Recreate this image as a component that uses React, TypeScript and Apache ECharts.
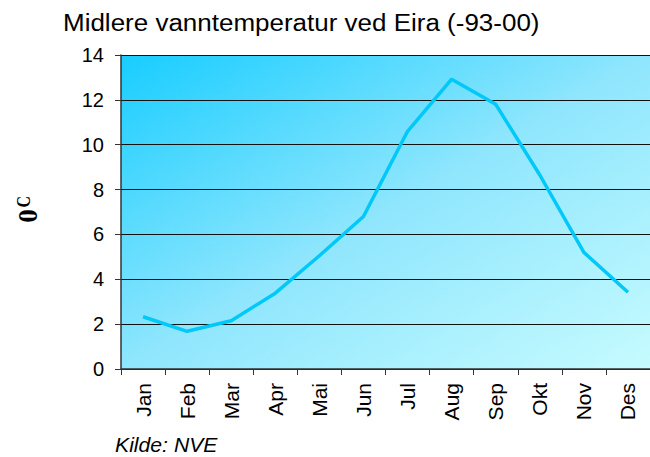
import React, { useEffect, useRef } from "react";
import * as echarts from "echarts";

const months = ["Jan", "Feb", "Mar", "Apr", "Mai", "Jun", "Jul", "Aug", "Sep", "Okt", "Nov", "Des"];
const temperature = [2.33, 1.68, 2.15, 3.38, 5.05, 6.8, 10.6, 12.92, 11.8, 8.65, 5.2, 3.42];
const titleText = "Midlere vanntemperatur ved Eira (-93-00)";
const sourceText = "Kilde: NVE";
const unitBase = "0";
const unitSup = "C";

export default function App() {
  const ref = useRef<HTMLDivElement>(null);
  useEffect(() => {
    if (!ref.current) return;
    const chart = echarts.init(ref.current, null, { renderer: "svg" });
    const font = "'Liberation Sans', Arial, sans-serif";
    const serif = "'Liberation Serif', 'Times New Roman', serif";
    chart.setOption({
      animation: false,
      backgroundColor: "#ffffff",
      grid: {
        left: 121,
        top: 55,
        right: 0,
        bottom: 88,
        show: true,
        borderWidth: 0,
        backgroundColor: new echarts.graphic.LinearGradient(0, 0, 1, 1, [
          { offset: 0, color: "#18cdff" },
          { offset: 0.5, color: "#8fe6fd" },
          { offset: 1, color: "#c6fbff" },
        ]),
      },
      xAxis: {
        type: "category",
        data: months,
        boundaryGap: true,
        axisLine: { lineStyle: { color: "#333", width: 1.5 } },
        axisTick: { show: true, length: 6, lineStyle: { color: "#333" } },
        axisLabel: {
          rotate: 90,
          margin: 14,
          fontFamily: font,
          fontSize: 21,
          color: "#000",
          interval: 0,
        },
      },
      yAxis: {
        type: "value",
        min: 0,
        max: 14,
        interval: 2,
        axisLine: { show: true, lineStyle: { color: "#333", width: 1.5 } },
        axisTick: { show: true, length: 6, lineStyle: { color: "#333" } },
        axisLabel: { fontFamily: font, fontSize: 20, color: "#000", margin: 17 },
        splitLine: { show: true, lineStyle: { color: "#111", width: 1 } },
      },
      series: [
        {
          type: "line",
          data: temperature,
          symbol: "none",
          lineStyle: { color: "#00c8f8", width: 3.5 },
        },
      ],
      graphic: [
        {
          type: "text",
          x: 63,
          y: 23.5,
          scaleX: 1.13,
          style: {
            text: titleText,
            fontFamily: font,
            fontSize: 23,
            fill: "#000",
            textAlign: "left",
            textVerticalAlign: "middle",
            align: "left",
            verticalAlign: "middle",
          },
        },
        {
          type: "text",
          x: 28,
          y: 216,
          rotation: Math.PI / 2,
          style: {
            text: unitBase,
            fontFamily: serif,
            fontSize: 27,
            fontWeight: "bold",
            fill: "#000",
            textAlign: "center",
            textVerticalAlign: "middle",
            align: "center",
            verticalAlign: "middle",
          },
        },
        {
          type: "text",
          x: 24.5,
          y: 201.7,
          rotation: Math.PI / 2,
          scaleY: 1.15,
          style: {
            text: unitSup,
            fontFamily: serif,
            fontSize: 16,
            fontWeight: "bold",
            fill: "#000",
            textAlign: "center",
            textVerticalAlign: "middle",
            align: "center",
            verticalAlign: "middle",
          },
        },
        {
          type: "text",
          x: 115,
          y: 445,
          scaleX: 1.06,
          style: {
            text: sourceText,
            fontFamily: font,
            fontSize: 20,
            fontStyle: "italic",
            fill: "#000",
            textAlign: "left",
            textVerticalAlign: "middle",
            align: "left",
            verticalAlign: "middle",
          },
        },
      ],
    });
    return () => chart.dispose();
  }, []);
  return <div ref={ref} style={{ position: "fixed", left: 0, top: 0, width: 650, height: 457 }} />;
}
